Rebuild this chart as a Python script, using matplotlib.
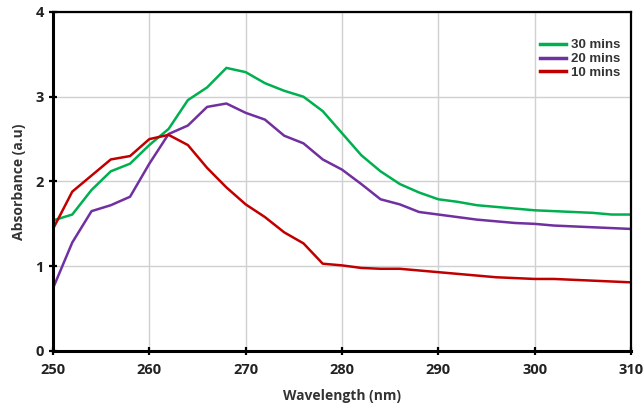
import numpy as np
import matplotlib.pyplot as plt

wavelength = np.arange(250, 311, 2)

abs_30 = [1.54, 1.61, 1.90, 2.12, 2.21, 2.43, 2.62, 2.96, 3.11, 3.34, 3.29, 3.16, 3.07, 3.00, 2.83,
          2.57, 2.31, 2.12, 1.97, 1.87, 1.79, 1.76, 1.72, 1.70, 1.68, 1.66, 1.65, 1.64, 1.63, 1.61, 1.61]
abs_20 = [0.74, 1.28, 1.65, 1.72, 1.82, 2.21, 2.56, 2.66, 2.88, 2.92, 2.81, 2.73, 2.54, 2.45, 2.26,
          2.14, 1.97, 1.79, 1.73, 1.64, 1.61, 1.58, 1.55, 1.53, 1.51, 1.50, 1.48, 1.47, 1.46, 1.45, 1.44]
abs_10 = [1.44, 1.88, 2.07, 2.26, 2.30, 2.50, 2.55, 2.43, 2.16, 1.93, 1.73, 1.58, 1.40, 1.27, 1.03,
          1.01, 0.98, 0.97, 0.97, 0.95, 0.93, 0.91, 0.89, 0.87, 0.86, 0.85, 0.85, 0.84, 0.83, 0.82, 0.81]

labels = ["30 mins", "20 mins", "10 mins"]
colors = ["#00B050", "#7030A0", "#C00000"]

fig = plt.figure(figsize=(6.44, 4.07), dpi=100)
ax = fig.add_axes([0.0823, 0.1376, 0.8975, 0.833])

for y, lab, c in zip([abs_30, abs_20, abs_10], labels, colors):
    ax.plot(wavelength, y, color=c, lw=1.8, label=lab)

ax.set_xlim(250, 310)
ax.set_ylim(0, 4)
ax.set_xticks(np.arange(250, 311, 10))
ax.set_yticks(np.arange(0, 5, 1))
ax.grid(True, color="#d0d0d0", lw=1)
ax.set_axisbelow(True)

for side in ["left", "bottom"]:
    ax.spines[side].set_linewidth(2.2)
for side in ["top", "right"]:
    ax.spines[side].set_linewidth(1.6)

ax.tick_params(axis="both", direction="inout", length=6, width=1.6, colors="black")
for t in ax.get_xticklabels() + ax.get_yticklabels():
    t.set_fontfamily("Open Sans")
    t.set_fontweight("bold")
    t.set_fontsize(10.5)
    t.set_color("#222222")
ax.tick_params(axis="x", pad=6)

ax.set_xlabel("Wavelength (nm)", fontfamily="Open Sans", fontweight="bold", fontsize=10, color="#333333", labelpad=8)
ax.set_ylabel("Absorbance (a.u)", fontfamily="Open Sans", fontweight="bold", fontsize=10, color="#333333", labelpad=7)

leg = ax.legend(loc="upper right", bbox_to_anchor=(1.003, 0.955), frameon=False,
                prop={"family": "Liberation Sans", "weight": "bold", "size": 9.5},
                handlelength=2.0, labelspacing=0.12, handletextpad=0.4, borderpad=0.4)
for line in leg.get_lines():
    line.set_linewidth(2.5)
for t in leg.get_texts():
    t.set_color("#333333")

fig.savefig("out.png", dpi=100)
